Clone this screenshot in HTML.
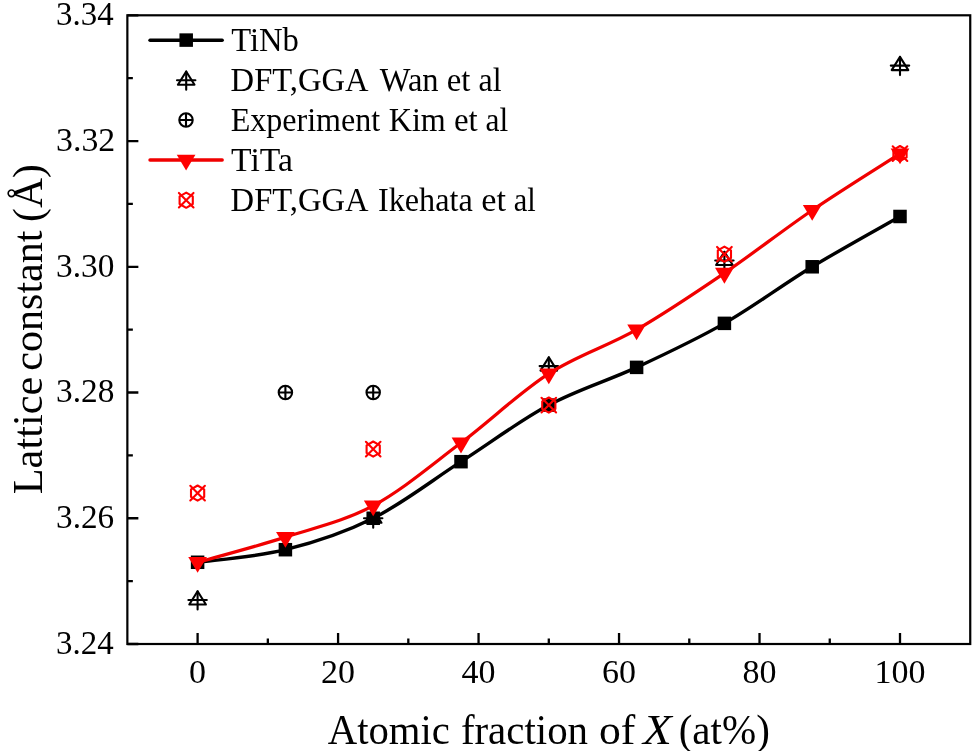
<!DOCTYPE html>
<html><head><meta charset="utf-8"><style>
html,body{margin:0;padding:0;background:#fff;}
svg{display:block;will-change:transform;}
text{font-family:"Liberation Serif",serif;fill:#000;}
</style></head><body>
<svg width="976" height="751" viewBox="0 0 976 751">
<rect x="127.36" y="15.30" width="842.88" height="628.70" fill="none" stroke="#000" stroke-width="2.2"/>
<path d="M197.60,644.00 V633.00 M338.08,644.00 V633.00 M478.56,644.00 V633.00 M619.04,644.00 V633.00 M759.52,644.00 V633.00 M900.00,644.00 V633.00 M267.84,644.00 V638.50 M408.32,644.00 V638.50 M548.80,644.00 V638.50 M689.28,644.00 V638.50 M829.76,644.00 V638.50 M127.36,644.00 H138.36 M127.36,518.26 H138.36 M127.36,392.52 H138.36 M127.36,266.78 H138.36 M127.36,141.04 H138.36 M127.36,15.30 H138.36 M127.36,581.13 H132.86 M127.36,455.39 H132.86 M127.36,329.65 H132.86 M127.36,203.91 H132.86 M127.36,78.17 H132.86" stroke="#000" stroke-width="2.3" fill="none"/>
<text x="197.60" y="682.7" text-anchor="middle" font-size="34">0</text>
<text x="338.08" y="682.7" text-anchor="middle" font-size="34">20</text>
<text x="478.56" y="682.7" text-anchor="middle" font-size="34">40</text>
<text x="619.04" y="682.7" text-anchor="middle" font-size="34">60</text>
<text x="759.52" y="682.7" text-anchor="middle" font-size="34">80</text>
<text x="900.00" y="682.7" text-anchor="middle" font-size="34">100</text>
<path d="M197.60,562.27 C212.23,560.17 256.13,557.03 285.40,549.70 C314.67,542.36 343.93,532.93 373.20,518.26 C402.47,503.59 431.73,480.54 461.00,461.68 C490.27,442.82 519.53,420.81 548.80,405.09 C578.07,389.38 607.33,380.99 636.60,367.37 C665.87,353.75 695.13,340.13 724.40,323.36 C753.67,306.60 782.93,284.59 812.20,266.78 C841.47,248.97 885.37,224.87 900.00,216.48" fill="none" stroke="#000" stroke-width="3.4"/>
<rect x="190.85" y="555.52" width="13.50" height="13.50" fill="#000"/>
<rect x="278.65" y="542.95" width="13.50" height="13.50" fill="#000"/>
<rect x="366.45" y="511.51" width="13.50" height="13.50" fill="#000"/>
<rect x="454.25" y="454.93" width="13.50" height="13.50" fill="#000"/>
<rect x="542.05" y="398.34" width="13.50" height="13.50" fill="#000"/>
<rect x="629.85" y="360.62" width="13.50" height="13.50" fill="#000"/>
<rect x="717.65" y="316.61" width="13.50" height="13.50" fill="#000"/>
<rect x="805.45" y="260.03" width="13.50" height="13.50" fill="#000"/>
<rect x="893.25" y="209.73" width="13.50" height="13.50" fill="#000"/>
<g fill="none" stroke="#000" stroke-width="2.1" stroke-linecap="round" stroke-linejoin="round"><path d="M197.60,591.29 L205.90,604.49 L189.30,604.49 Z"/><path d="M188.40,599.99 H206.80 M197.60,591.29 V609.49"/></g>
<g fill="none" stroke="#000" stroke-width="2.1" stroke-linecap="round" stroke-linejoin="round"><path d="M373.20,509.56 L381.50,522.76 L364.90,522.76 Z"/><path d="M364.00,518.26 H382.40 M373.20,509.56 V527.76"/></g>
<g fill="none" stroke="#000" stroke-width="2.1" stroke-linecap="round" stroke-linejoin="round"><path d="M548.80,357.41 L557.10,370.61 L540.50,370.61 Z"/><path d="M539.60,366.11 H558.00 M548.80,357.41 V375.61"/></g>
<g fill="none" stroke="#000" stroke-width="2.1" stroke-linecap="round" stroke-linejoin="round"><path d="M724.40,251.79 L732.70,264.99 L716.10,264.99 Z"/><path d="M715.20,260.49 H733.60 M724.40,251.79 V269.99"/></g>
<g fill="none" stroke="#000" stroke-width="2.1" stroke-linecap="round" stroke-linejoin="round"><path d="M900.00,56.90 L908.30,70.10 L891.70,70.10 Z"/><path d="M890.80,65.60 H909.20 M900.00,56.90 V75.10"/></g>
<g fill="none" stroke="#000" stroke-width="2.1"><circle cx="285.40" cy="392.52" r="6.70"/><path d="M278.70,392.52 H292.10 M285.40,385.82 V399.22"/></g>
<g fill="none" stroke="#000" stroke-width="2.1"><circle cx="373.20" cy="392.52" r="6.70"/><path d="M366.50,392.52 H379.90 M373.20,385.82 V399.22"/></g>
<path d="M197.60,562.27 C212.23,558.08 256.13,546.55 285.40,537.12 C314.67,527.69 343.93,521.40 373.20,505.69 C402.47,489.97 431.73,464.82 461.00,442.82 C490.27,420.81 519.53,392.52 548.80,373.66 C578.07,354.80 607.33,346.42 636.60,329.65 C665.87,312.88 695.13,292.98 724.40,273.07 C753.67,253.16 782.93,230.11 812.20,210.20 C841.47,190.29 885.37,163.04 900.00,153.61" fill="none" stroke="#f00000" stroke-width="3.2"/>
<path d="M188.25,557.07 L206.95,557.07 L197.60,572.87 Z" fill="#ff0000"/>
<path d="M276.05,531.92 L294.75,531.92 L285.40,547.72 Z" fill="#ff0000"/>
<path d="M363.85,500.49 L382.55,500.49 L373.20,516.29 Z" fill="#ff0000"/>
<path d="M451.65,437.62 L470.35,437.62 L461.00,453.42 Z" fill="#ff0000"/>
<path d="M539.45,368.46 L558.15,368.46 L548.80,384.26 Z" fill="#ff0000"/>
<path d="M627.25,324.45 L645.95,324.45 L636.60,340.25 Z" fill="#ff0000"/>
<path d="M715.05,267.87 L733.75,267.87 L724.40,283.67 Z" fill="#ff0000"/>
<path d="M802.85,205.00 L821.55,205.00 L812.20,220.80 Z" fill="#ff0000"/>
<path d="M890.65,148.41 L909.35,148.41 L900.00,164.21 Z" fill="#ff0000"/>
<g fill="none" stroke="#ff0000" stroke-width="2.1" stroke-linecap="round" stroke-linejoin="round"><path d="M197.60,485.51 L204.20,489.31 L204.20,496.91 L197.60,500.71 L191.00,496.91 L191.00,489.31 Z"/><path d="M190.30,485.81 L204.90,500.41 M204.90,485.81 L190.30,500.41"/></g>
<g fill="none" stroke="#ff0000" stroke-width="2.1" stroke-linecap="round" stroke-linejoin="round"><path d="M373.20,441.50 L379.80,445.30 L379.80,452.90 L373.20,456.70 L366.60,452.90 L366.60,445.30 Z"/><path d="M365.90,441.80 L380.50,456.40 M380.50,441.80 L365.90,456.40"/></g>
<g fill="none" stroke="#ff0000" stroke-width="2.1" stroke-linecap="round" stroke-linejoin="round"><path d="M548.80,397.49 L555.40,401.29 L555.40,408.89 L548.80,412.69 L542.20,408.89 L542.20,401.29 Z"/><path d="M541.50,397.79 L556.10,412.39 M556.10,397.79 L541.50,412.39"/></g>
<g fill="none" stroke="#ff0000" stroke-width="2.1" stroke-linecap="round" stroke-linejoin="round"><path d="M724.40,246.61 L731.00,250.41 L731.00,258.01 L724.40,261.81 L717.80,258.01 L717.80,250.41 Z"/><path d="M717.10,246.91 L731.70,261.51 M731.70,246.91 L717.10,261.51"/></g>
<g fill="none" stroke="#ff0000" stroke-width="2.1" stroke-linecap="round" stroke-linejoin="round"><path d="M900.00,146.01 L906.60,149.81 L906.60,157.41 L900.00,161.21 L893.40,157.41 L893.40,149.81 Z"/><path d="M892.70,146.31 L907.30,160.91 M907.30,146.31 L892.70,160.91"/></g>
<path d="M150,40.3 H222.2" stroke="#000" stroke-width="3.4" stroke-linecap="round"/>
<rect x="179.45" y="33.35" width="13.50" height="13.50" fill="#000"/>
<g fill="none" stroke="#000" stroke-width="2.1" stroke-linecap="round" stroke-linejoin="round"><path d="M186.20,71.50 L194.50,84.70 L177.90,84.70 Z"/><path d="M177.00,80.20 H195.40 M186.20,71.50 V89.70"/></g>
<g fill="none" stroke="#000" stroke-width="2.1"><circle cx="186.00" cy="120.00" r="6.70"/><path d="M179.30,120.00 H192.70 M186.00,113.30 V126.70"/></g>
<path d="M150,160 H222.2" stroke="#f00000" stroke-width="3.4" stroke-linecap="round"/>
<path d="M176.75,154.80 L195.45,154.80 L186.10,170.60 Z" fill="#ff0000"/>
<g fill="none" stroke="#ff0000" stroke-width="2.1" stroke-linecap="round" stroke-linejoin="round"><path d="M186.20,192.60 L192.80,196.40 L192.80,204.00 L186.20,207.80 L179.60,204.00 L179.60,196.40 Z"/><path d="M178.90,192.90 L193.50,207.50 M193.50,192.90 L178.90,207.50"/></g>
<text x="231.21" y="51.00" font-size="33" textLength="67.73" lengthAdjust="spacingAndGlyphs">TiNb</text>
<text x="230.61" y="91.40" font-size="33" textLength="137.93" lengthAdjust="spacingAndGlyphs">DFT,GGA</text>
<text x="379.80" y="91.40" font-size="33" textLength="58.84" lengthAdjust="spacingAndGlyphs">Wan</text>
<text x="446.66" y="91.40" font-size="33" textLength="23.66" lengthAdjust="spacingAndGlyphs">et</text>
<text x="478.59" y="91.40" font-size="33" textLength="23.06" lengthAdjust="spacingAndGlyphs">al</text>
<text x="230.63" y="131.10" font-size="33" textLength="149.57" lengthAdjust="spacingAndGlyphs">Experiment</text>
<text x="388.73" y="131.10" font-size="33" textLength="57.08" lengthAdjust="spacingAndGlyphs">Kim</text>
<text x="453.95" y="131.10" font-size="33" textLength="23.76" lengthAdjust="spacingAndGlyphs">et</text>
<text x="485.51" y="131.10" font-size="33" textLength="22.73" lengthAdjust="spacingAndGlyphs">al</text>
<text x="231.09" y="171.00" font-size="33" textLength="61.84" lengthAdjust="spacingAndGlyphs">TiTa</text>
<text x="230.61" y="211.00" font-size="33" textLength="137.93" lengthAdjust="spacingAndGlyphs">DFT,GGA</text>
<text x="377.98" y="211.00" font-size="33" textLength="94.76" lengthAdjust="spacingAndGlyphs">Ikehata</text>
<text x="481.20" y="211.00" font-size="33" textLength="24.73" lengthAdjust="spacingAndGlyphs">et</text>
<text x="513.65" y="211.00" font-size="33" textLength="21.98" lengthAdjust="spacingAndGlyphs">al</text>
<text x="56.11" y="653.80" font-size="34" textLength="57.58" lengthAdjust="spacingAndGlyphs">3.24</text>
<text x="56.09" y="528.06" font-size="34" textLength="58.08" lengthAdjust="spacingAndGlyphs">3.26</text>
<text x="56.08" y="402.32" font-size="34" textLength="58.34" lengthAdjust="spacingAndGlyphs">3.28</text>
<text x="56.08" y="276.58" font-size="34" textLength="58.34" lengthAdjust="spacingAndGlyphs">3.30</text>
<text x="56.06" y="150.84" font-size="34" textLength="59.13" lengthAdjust="spacingAndGlyphs">3.32</text>
<text x="56.11" y="25.10" font-size="34" textLength="57.58" lengthAdjust="spacingAndGlyphs">3.34</text>
<text x="327.72" y="744.00" font-size="42" textLength="122.18" lengthAdjust="spacingAndGlyphs">Atomic</text>
<text x="460.88" y="744.00" font-size="42" textLength="127.20" lengthAdjust="spacingAndGlyphs">fraction</text>
<text x="598.94" y="744.00" font-size="42" textLength="36.35" lengthAdjust="spacingAndGlyphs">of</text>
<text x="642.90" y="744.00" font-size="42" textLength="28.79" lengthAdjust="spacingAndGlyphs" font-style="italic">X</text>
<text x="678.69" y="744.00" font-size="42" textLength="91.14" lengthAdjust="spacingAndGlyphs">(at%)</text>
<text transform="translate(41.80,0) rotate(-90)" x="-494.26" y="0" font-size="42" textLength="117.56" lengthAdjust="spacingAndGlyphs">Lattice</text>
<text transform="translate(41.80,0) rotate(-90)" x="-370.70" y="0" font-size="42" textLength="140.12" lengthAdjust="spacingAndGlyphs">constant</text>
<text transform="translate(41.80,0) rotate(-90)" x="-221.93" y="0" font-size="42" textLength="57.72" lengthAdjust="spacingAndGlyphs">(Å)</text>
</svg>
</body></html>
